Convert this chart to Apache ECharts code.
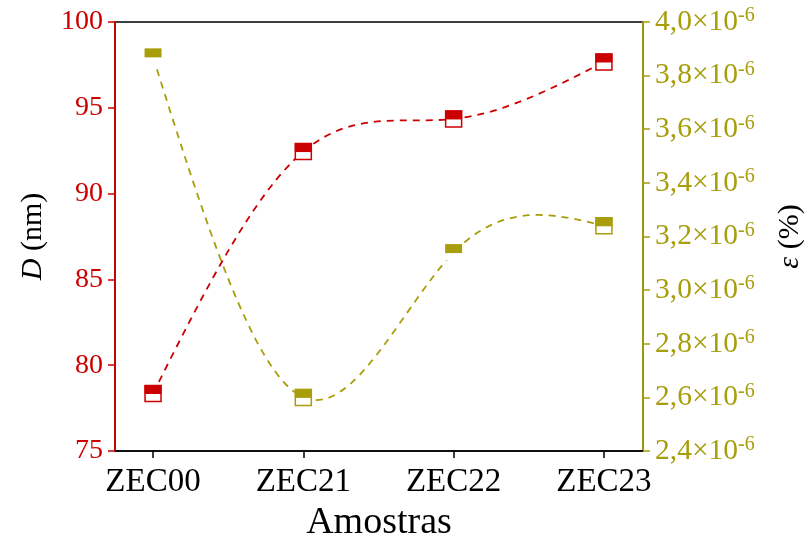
<!DOCTYPE html>
<html><head><meta charset="utf-8">
<script src="https://cdn.jsdelivr.net/npm/echarts@6/dist/echarts.min.js"></script>
<style>html,body{margin:0;padding:0;background:#fff}#c{width:804px;height:540px}</style>
</head><body><div id="c"></div>
<script>
const categories = ['ZEC00', 'ZEC21', 'ZEC22', 'ZEC23'];
const sizeD = [78.35, 92.45, 94.35, 97.67];          // D (nm)
const strainE6 = [3.87, 2.60, 3.14, 3.24];            // ε (%) in units of 1e-6
const leftTicks = [75, 80, 85, 90, 95, 100];
const rightTicks = ['2,4', '2,6', '2,8', '3,0', '3,2', '3,4', '3,6', '3,8', '4,0'];

const RED = '#cc0000';
const OLIVE = '#a89e0c';
const FONT = 'Liberation Serif';
const noBorderOlive = [0, 2];

const chart = echarts.init(document.getElementById('c'), null, {renderer: 'canvas'});
const xs = categories.map((_, i) => i);

// natural cubic spline slopes (uniform spacing of 1 category)
function splineSlopes(y) {
  const n = y.length;
  const M = new Array(n).fill(0);
  if (n >= 3) {
    const a = [], b = [], c = [], d = [];
    for (let i = 1; i < n - 1; i++) { a.push(1); b.push(4); c.push(1); d.push(6 * (y[i + 1] - 2 * y[i] + y[i - 1])); }
    const m = b.length;
    for (let i = 1; i < m; i++) { const w = a[i] / b[i - 1]; b[i] -= w * c[i - 1]; d[i] -= w * d[i - 1]; }
    const sol = new Array(m);
    sol[m - 1] = d[m - 1] / b[m - 1];
    for (let i = m - 2; i >= 0; i--) sol[i] = (d[i] - c[i] * sol[i + 1]) / b[i];
    for (let i = 0; i < m; i++) M[i + 1] = sol[i];
  }
  const s = [];
  for (let i = 0; i < n - 1; i++) s.push((y[i + 1] - y[i]) - (2 * M[i] + M[i + 1]) / 6);
  s.push((y[n - 1] - y[n - 2]) + (M[n - 2] + 2 * M[n - 1]) / 6);
  return s;
}

function curveSeries(vals, color, yIdx) {
  const slopes = splineSlopes(vals);
  return {
    type: 'custom', yAxisIndex: yIdx, z: 2, animation: false, silent: true,
    data: vals.map((v, i) => [i, v]),
    renderItem: function (params, api) {
      if (params.dataIndex !== 0) return null;
      const p0 = api.coord([0, vals[0]]);
      let d = 'M' + p0[0] + ' ' + p0[1];
      for (let i = 0; i < vals.length - 1; i++) {
        const c1 = api.coord([i + 1 / 3, vals[i] + slopes[i] / 3]);
        const c2 = api.coord([i + 2 / 3, vals[i + 1] - slopes[i + 1] / 3]);
        const e = api.coord([i + 1, vals[i + 1]]);
        d += ' C' + c1[0] + ' ' + c1[1] + ' ' + c2[0] + ' ' + c2[1] + ' ' + e[0] + ' ' + e[1];
      }
      return {type: 'path', shape: {pathData: d}, style: {fill: null, stroke: color, lineWidth: 1.8, lineDash: [7, 6]}};
    }
  };
}
function boxSeries(vals, color, yIdx, hideBorderIdx) {
  return {
    type: 'scatter', yAxisIndex: yIdx,
    data: vals.map((v, i) => {
      const d = {value: [i, v]};
      if (hideBorderIdx.indexOf(i) >= 0) d.itemStyle = {borderWidth: 0};
      return d;
    }),
    symbol: 'rect', symbolSize: 16,
    itemStyle: {color: '#fff', borderColor: color, borderWidth: 1.5, opacity: 1},
    z: 3, animation: false
  };
}
function topSeries(vals, color, yIdx) {
  return {
    type: 'scatter', yAxisIndex: yIdx,
    data: vals.map((v, i) => [i, v]),
    symbol: 'rect', symbolSize: [17, 9], symbolOffset: [0, -4],
    itemStyle: {color: color, opacity: 1}, z: 4, animation: false
  };
}

const option = {
  backgroundColor: '#fff',
  animation: false,
  grid: {left: 115, right: 161, top: 22, bottom: 89, outerBoundsMode: 'none', containLabel: false, show: true, borderColor: '#000', borderWidth: 1.5, backgroundColor: 'transparent'},
  xAxis: {
    type: 'value', min: -0.253, max: 3.26,
    name: 'Amostras', nameLocation: 'middle', nameGap: 49,
    nameTextStyle: {fontFamily: FONT, fontSize: 38, color: '#000'},
    axisLine: {show: true, onZero: false, lineStyle: {color: '#000', width: 1.5}},
    axisTick: {show: true, customValues: xs, length: 7, lineStyle: {color: '#000', width: 1.5}},
    axisLabel: {customValues: xs, formatter: v => categories[Math.round(v)] || '', fontFamily: FONT, fontSize: 33, color: '#000', margin: 15},
    splitLine: {show: false}
  },
  yAxis: [{
    type: 'value', min: 75, max: 100, interval: 5, position: 'left',
    name: '{i|D} (nm)', nameLocation: 'middle', nameGap: 67, nameRotate: 90,
    nameTextStyle: {fontFamily: FONT, fontSize: 30, color: '#000', rich: {i: {fontFamily: FONT, fontSize: 30, fontStyle: 'italic', color: '#000'}}},
    axisLine: {show: true, onZero: false, lineStyle: {color: RED, width: 1.8}},
    axisTick: {show: true, inside: false, length: 7, lineStyle: {color: RED, width: 1.5}},
    axisLabel: {fontFamily: FONT, fontSize: 28, color: RED, margin: 12, formatter: v => leftTicks.indexOf(v) >= 0 ? String(v) : ''},
    splitLine: {show: false}
  }, {
    type: 'value', min: 2.4, max: 4.0, interval: 0.2, position: 'right',
    name: '{i|ε} (%)', nameLocation: 'middle', nameGap: 132, nameRotate: 90,
    nameTextStyle: {fontFamily: FONT, fontSize: 30, color: '#000', rich: {i: {fontFamily: FONT, fontSize: 30, fontStyle: 'italic', color: '#000'}}},
    axisLine: {show: true, onZero: false, lineStyle: {color: OLIVE, width: 1.8}},
    axisTick: {show: true, length: 7, lineStyle: {color: OLIVE, width: 1.5}},
    axisLabel: {
      margin: 12, color: OLIVE,
      formatter: v => { const k = Math.round((v - 2.4) / 0.2); return '{a|' + rightTicks[k] + '×10}{b|-6}'; },
      rich: {
        a: {fontFamily: FONT, fontSize: 29.5, color: OLIVE},
        b: {fontFamily: FONT, fontSize: 20, color: OLIVE, verticalAlign: 'top', padding: [0, 0, 12, 0]}
      }
    },
    splitLine: {show: false}
  }],
  series: [
    curveSeries(sizeD, RED, 0),
    boxSeries(sizeD, RED, 0, []),
    topSeries(sizeD, RED, 0),
    curveSeries(strainE6, OLIVE, 1),
    boxSeries(strainE6, OLIVE, 1, noBorderOlive),
    topSeries(strainE6, OLIVE, 1)
  ]
};
chart.setOption(option);
</script></body></html>
